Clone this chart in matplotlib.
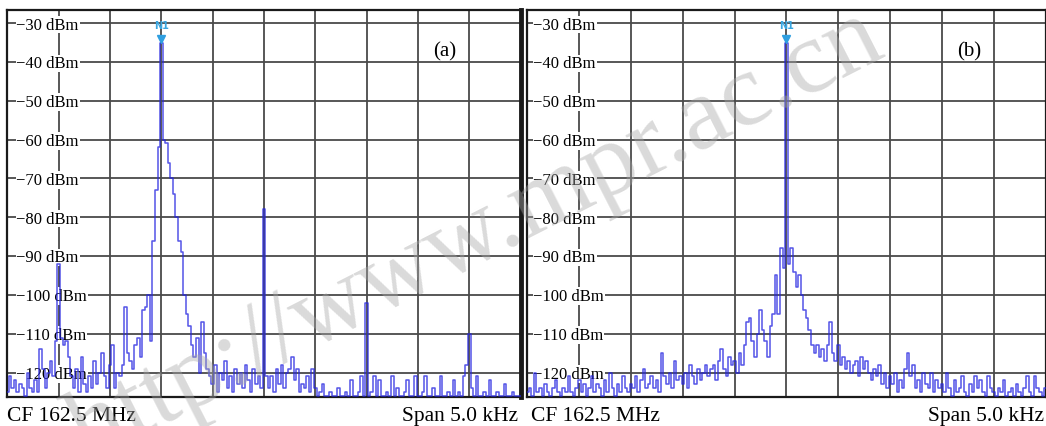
import matplotlib
matplotlib.use('Agg')
import matplotlib.pyplot as plt
import numpy as np

plt.rcParams['font.family'] = ['Liberation Serif', 'DejaVu Serif']

# # # DADOS # # #
span_khz = 5.0
center_text = 'CF 162.5 MHz'
span_text = 'Span 5.0 kHz'
ref_levels = [-30, -40, -50, -60, -70, -80, -90, -100, -110, -120]
panel_tags = ['(a)', '(b)']
marker_name = 'N1'

# trace (a), 201 points across the span (dBm)
level_a = [
    -125, -121, -124, -122, -125, -123, -124, -126, -120, -124,
    -125, -122, -125, -114, -119, -124, -120, -117, -121, -112,
    -92,
    -111, -113, -112, -116, -121, -124, -119, -125, -116, -123,
    -125, -121, -124, -117, -123, -120, -115, -121, -124,
    -118, -113, -124, -120, -121, -118, -103, -115, -117, -119,
    -113, -111, -116, -104, -103, -100, -112, -86, -73, -62,
    -35,
    -60, -61, -66, -70, -74, -80, -86, -89, -100, -105,
    -108, -113, -116, -111, -120, -107, -115, -119, -121,
    -123, -118, -125, -120, -122, -117, -124, -121, -125, -119,
    -123, -120, -124, -118, -122, -125, -119, -123, -121, -124,
    -78,
    -121, -124, -121, -125, -119, -123, -118, -124, -120, -119,
    -116, -122, -119, -125, -123, -124, -121, -125, -119,
    -124, -126, -125, -123, -126, -126, -125, -126, -126, -124,
    -126, -126, -125, -126, -122, -126, -126, -125, -121, -126,
    -102,
    -126, -125, -121, -126, -122, -126, -126, -125, -126, -121,
    -126, -124, -126, -126, -125, -122, -126, -126, -121,
    -126, -126, -125, -121, -126, -126, -124, -126, -126, -121,
    -126, -126, -125, -126, -122, -126, -125, -126, -121, -118,
    -110,
    -124, -126, -121, -126, -126, -125, -126, -122, -126, -126,
    -125, -126, -126, -123, -126, -126, -125, -126, -126, -126,
]

# trace (b), 201 points across the span (dBm)
level_b = [
    -125, -124, -126, -120, -125, -124, -126, -123, -125, -126,
    -124, -122, -125, -126, -124, -125, -121, -125, -126, -124,
    -122, -125, -123, -126, -124, -121, -125, -123, -124, -126,
    -122, -125, -120, -124, -126, -123, -125, -121, -124, -125,
    -123, -124, -121, -125, -122, -119, -124, -123, -121, -124,
    -122, -125, -115, -121, -123, -120, -124, -117, -122, -121,
    -123, -120, -124, -118, -121, -123, -119, -122, -120, -118,
    -121, -119, -118, -122, -117, -114, -119, -121, -116, -118,
    -117, -120, -115, -118, -113, -107, -106, -112, -116, -110,
    -104, -109, -112, -116, -108, -105, -95, -105, -88, -93,
    -35,
    -92, -88, -94, -98, -95, -100, -104, -106, -109, -113,
    -115, -113, -116, -114, -117, -113, -107, -115, -117,
    -113, -118, -116, -119, -117, -120, -118, -117, -121, -116,
    -119, -117, -120, -122, -119, -121, -118, -123, -120, -124,
    -121, -123, -120, -125, -122, -124, -119, -115, -121, -118,
    -124, -122, -125, -120, -123, -124, -120, -125, -122, -124,
    -123, -125, -120, -124, -126, -122, -125, -124, -121, -125,
    -126, -123, -125, -121, -124, -122, -125, -126, -121, -124,
    -125, -126, -124, -125, -122, -126, -125, -124, -126, -123,
    -125, -126, -124, -121, -125, -126, -121, -124, -125, -126, -124,
]

W, H = 1046, 427
fig = plt.figure(figsize=(W / 100, H / 100), dpi=100)


def add_panel(left, top, right, bottom):
    return fig.add_axes([left / W, 1 - bottom / H, (right - left) / W, (bottom - top) / H])


ax_a = add_panel(7.4, 10.5, 520.6, 398)
ax_b = add_panel(527.4, 10.5, 1045.5, 398)

for ax, level, tag, xlab in zip([ax_a, ax_b], [level_a, level_b], panel_tags, [0.0175, 0.0115]):
    freq = np.linspace(-span_khz / 2, span_khz / 2, len(level))
    ax.plot(freq, level, drawstyle='steps-mid', color='#2424e0', lw=1.1, alpha=0.78, zorder=3)
    ax.set_xlim(-span_khz / 2, span_khz / 2)
    ax.set_ylim(-126.3, -26.5)
    ax.set_xticks(np.linspace(-span_khz / 2, span_khz / 2, 11))
    ax.set_yticks(ref_levels)
    ax.tick_params(length=0, labelleft=False, labelbottom=False)
    ax.grid(True, color='#4a4a4a', lw=1.3)
    ax.set_axisbelow(True)
    for sp in ax.spines.values():
        sp.set_color('#1a1a1a')
        sp.set_linewidth(1.6)
    # etiquetas do eixo y dentro do grafico
    for v in ref_levels:
        ax.text(xlab, v - 1.4, '\u2212%d dBm' % abs(v), transform=ax.get_yaxis_transform(),
                ha='left', va='baseline', fontsize=12, zorder=2.5,
                bbox=dict(facecolor='white', edgecolor='none', pad=0.6))
    # marcador N1 no pico
    k = int(np.argmax(level))
    ax.plot(freq[k], level[k] + 1.0, marker='v', color='#2f9fe0', ms=6, zorder=4)
    ax.text(freq[k], level[k] + 4.4, marker_name, ha='center', va='center', fontsize=7,
            fontweight='bold', color='#3aa6e0', family='DejaVu Sans', zorder=4)
    ax.text(0.852, 0.893, tag, transform=ax.transAxes, ha='center', va='center', fontsize=15)

ax_a.spines['right'].set_linewidth(3.5)

# textos de baixo
fig.text(7.4 / W, 1 - 421.5 / H, center_text, ha='left', va='baseline', fontsize=15.5)
fig.text(518 / W, 1 - 421.5 / H, span_text, ha='right', va='baseline', fontsize=15.5)
fig.text(531 / W, 1 - 421.5 / H, center_text, ha='left', va='baseline', fontsize=15.5)
fig.text(1044 / W, 1 - 421.5 / H, span_text, ha='right', va='baseline', fontsize=15.5)

# marca d'agua
fig.text(88 / W, 1 - 462 / H, 'http://www.mpr.ac.cn', rotation=27, rotation_mode='anchor',
         ha='left', va='baseline', fontsize=75, color='#a8a8a8', alpha=0.42, zorder=10)

fig.savefig('out.png', dpi=100)
